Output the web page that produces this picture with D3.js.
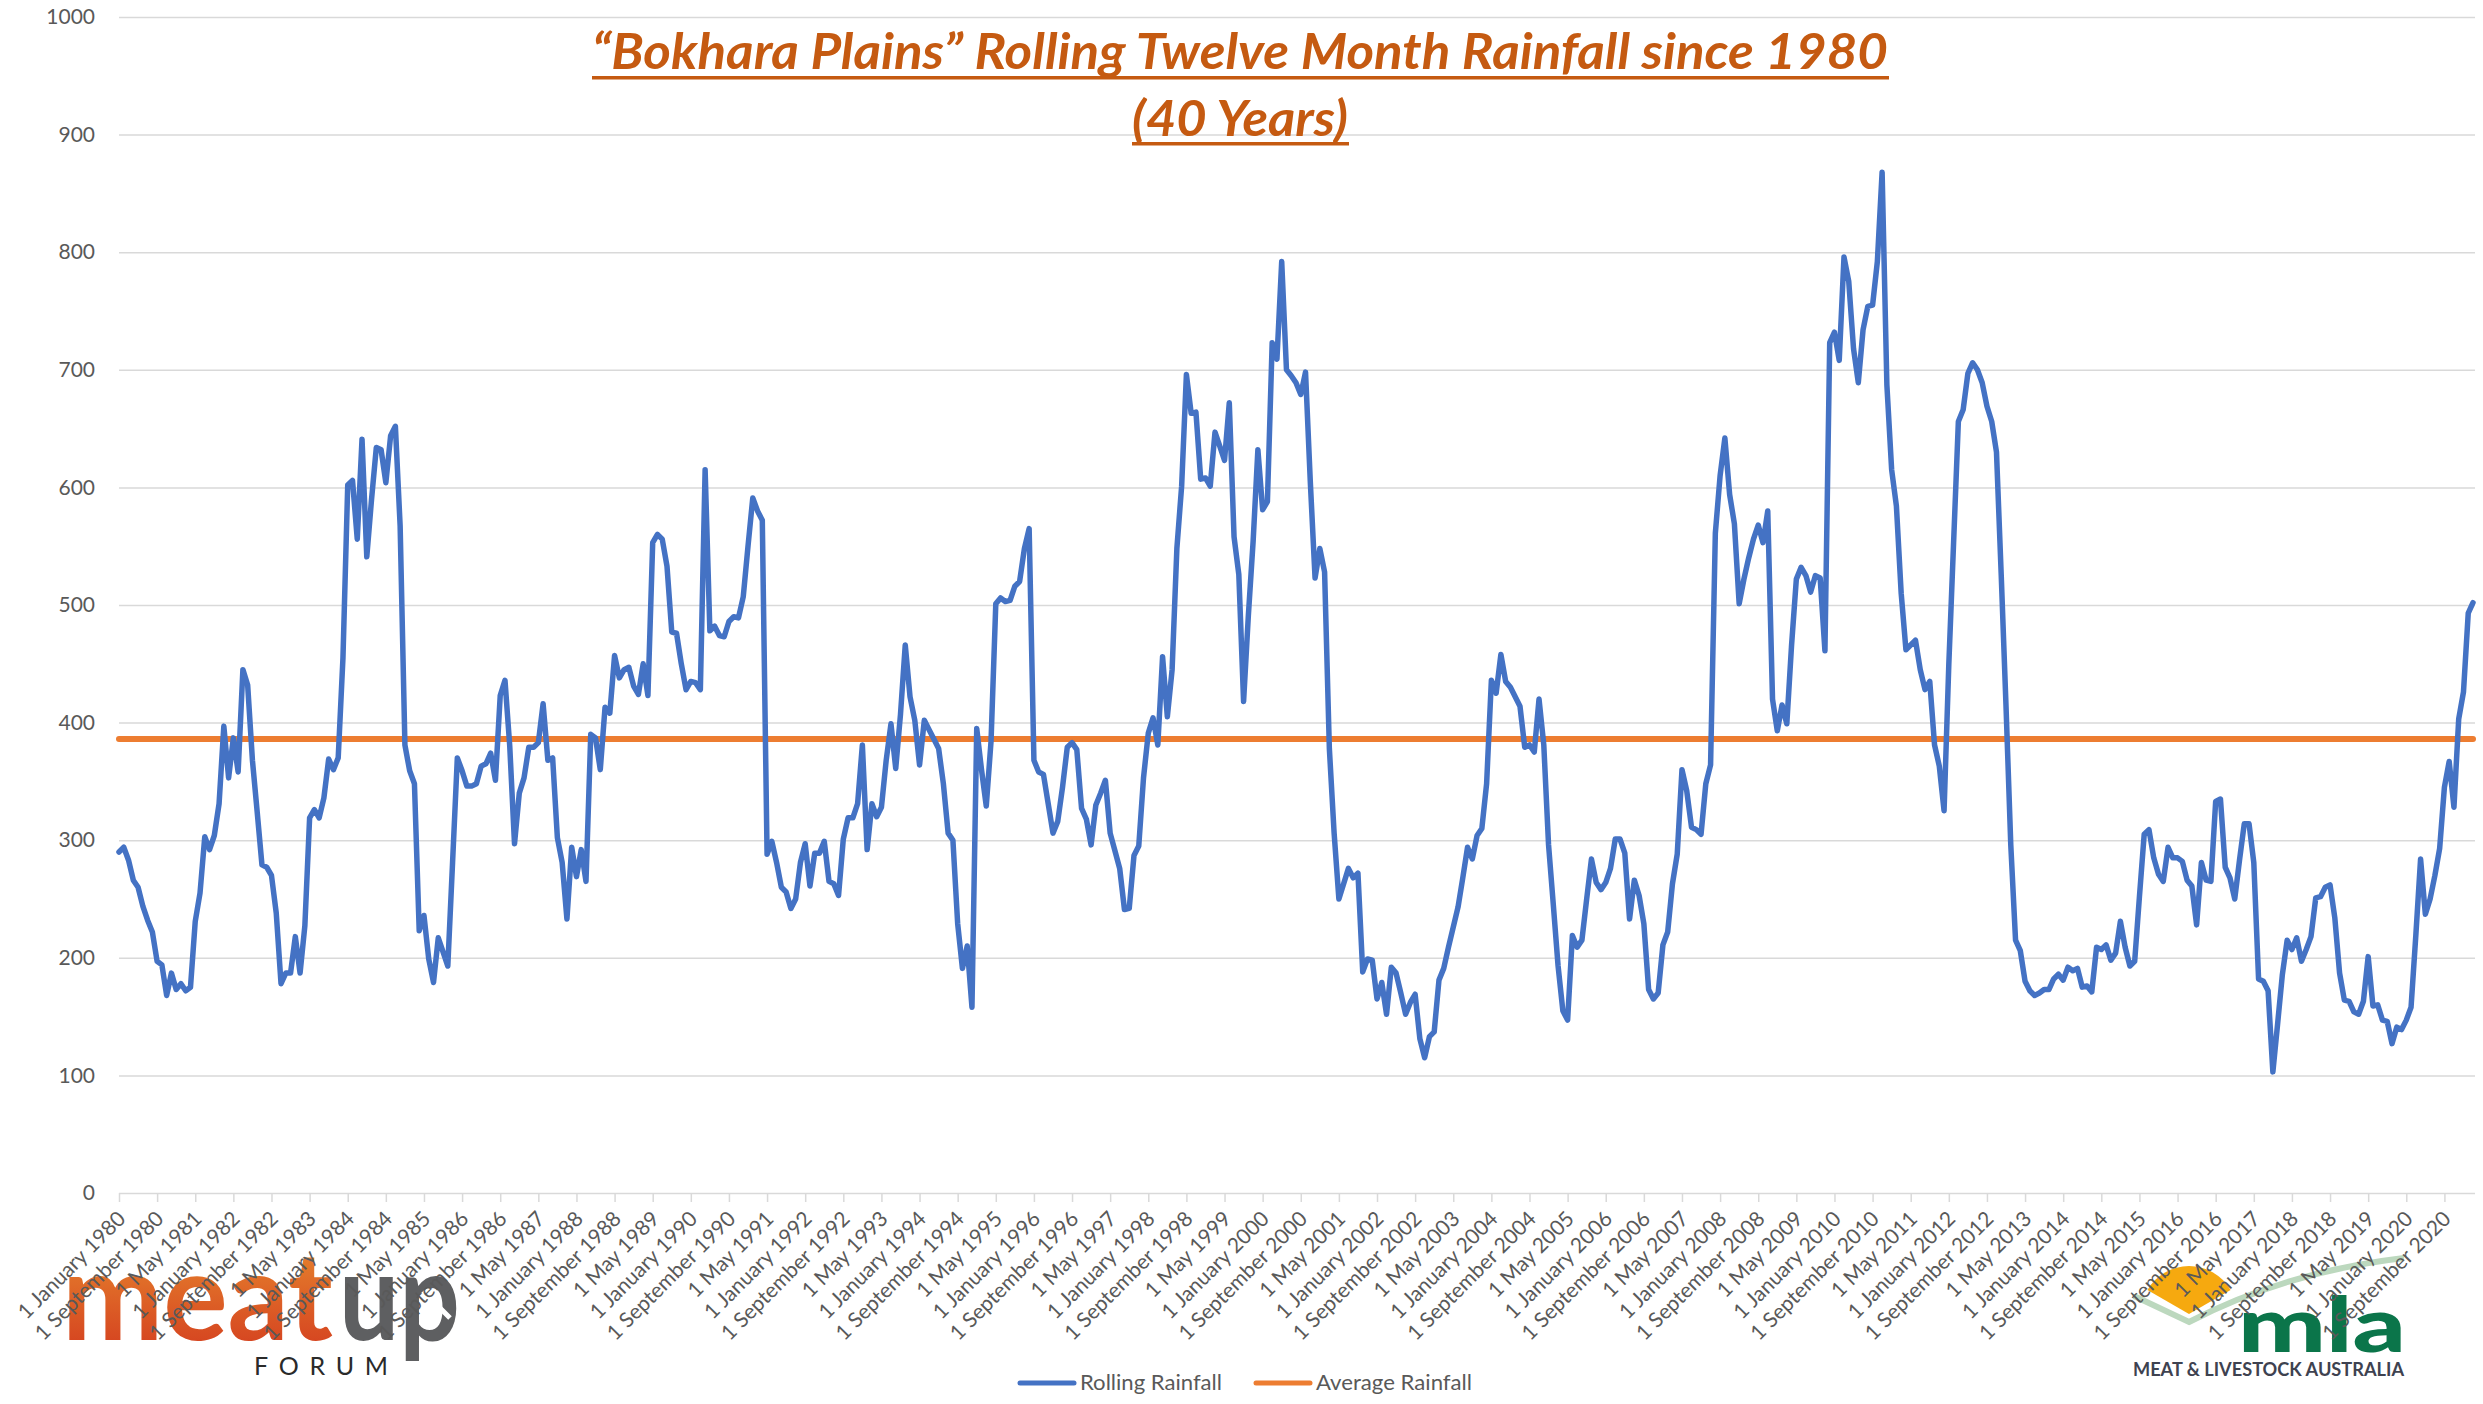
<!DOCTYPE html>
<html>
<head>
<meta charset="utf-8">
<script src="https://cdnjs.cloudflare.com/ajax/libs/d3/7.8.5/d3.min.js"></script>
<style>
    body { margin: 0; background: #fff; }
    svg { display: block; font-family: Lato, "Open Sans", sans-serif; }
</style>
</head>
<body>
<svg id="rainfall-chart" width="2483" height="1404"></svg>
<script>
// rolling 12 month rainfall (mm), one value per month from January 1980
var firstMonth = new Date(1980, 0, 1);
var rollingRainfall = [
    290, 294, 283, 266, 260, 244, 232, 222, 197, 194,
    168, 187, 173, 178, 172, 175, 231, 255, 303, 292,
    304, 331, 397, 353, 387, 358, 445, 432, 368, 324,
    279, 277, 270, 238, 178, 187, 187, 218, 187, 227,
    319, 326, 319, 336, 369, 360, 370, 455, 602, 606,
    556, 641, 541, 590, 634, 632, 604, 644, 652, 567,
    381, 359, 348, 223, 236, 199, 179, 217, 205, 193,
    281, 370, 359, 346, 346, 348, 363, 365, 374, 351,
    423, 436, 380, 297, 340, 353, 379, 379, 383, 416,
    368, 370, 302, 281, 233, 294, 269, 292, 265, 390,
    387, 360, 413, 408, 457, 438, 445, 447, 431, 424,
    450, 423, 553, 560, 556, 533, 477, 476, 450, 428,
    435, 434, 428, 615, 478, 482, 474, 473, 486, 490,
    489, 507, 550, 591, 580, 572, 288, 299, 281, 260,
    256, 242, 250, 281, 297, 261, 289, 289, 299, 265,
    263, 253, 301, 319, 319, 331, 381, 292, 331, 320,
    328, 368, 399, 361, 407, 466, 422, 402, 364, 402,
    394, 386, 378, 348, 306, 300, 229, 191, 210, 158,
    395, 360, 329, 384, 501, 506, 503, 504, 516, 520,
    548, 565, 368, 358, 356, 331, 306, 316, 345, 379,
    383, 377, 327, 318, 296, 330, 340, 351, 306, 291,
    276, 241, 242, 287, 295, 353, 391, 404, 381, 456,
    405, 445, 548, 601, 696, 663, 664, 607, 608, 601,
    647, 635, 623, 672, 558, 526, 418, 491, 554, 632,
    581, 588, 723, 709, 792, 700, 695, 689, 679, 698,
    605, 523, 548, 528, 378, 306, 250, 263, 276, 268,
    272, 188, 199, 198, 165, 179, 152, 192, 187, 170,
    152, 162, 169, 131, 115, 133, 137, 181, 191, 209,
    226, 243, 268, 294, 284, 304, 310, 348, 436, 425,
    458, 435, 430, 422, 414, 379, 381, 375, 420, 381,
    296, 245, 193, 155, 147, 219, 209, 215, 250, 284,
    264, 258, 264, 276, 301, 301, 289, 233, 266, 253,
    229, 173, 165, 170, 211, 222, 263, 288, 360, 342,
    311, 309, 305, 348, 364, 561, 610, 642, 594, 569,
    501, 522, 540, 556, 568, 553, 580, 420, 393, 415,
    399, 466, 522, 532, 525, 511, 525, 523, 461, 723,
    732, 708, 796, 775, 718, 689, 734, 754, 755, 792,
    868, 687, 615, 584, 510, 462, 466, 470, 445, 428,
    435, 381, 363, 325, 450, 553, 656, 666, 697, 706,
    700, 689, 669, 656, 630, 525, 414, 296, 215, 206,
    180, 172, 168, 170, 173, 173, 182, 186, 181, 192,
    189, 191, 175, 176, 171, 209, 207, 211, 198, 204,
    231, 209, 193, 197, 252, 305, 309, 285, 271, 265,
    294, 285, 285, 282, 266, 261, 228, 281, 266, 265,
    333, 335, 277, 268, 250, 283, 314, 314, 281, 182,
    180, 172, 103, 144, 186, 215, 207, 217, 197, 207,
    218, 251, 252, 260, 262, 234, 187, 164, 163, 154,
    152, 163, 201, 159, 160, 147, 146, 127, 141, 139,
    147, 158, 219, 284, 237, 250, 270, 293, 345, 367,
    328, 403, 426, 493, 502
];
var averageRainfall = 386;

var yTicks = [0, 100, 200, 300, 400, 500, 600, 700, 800, 900, 1000];
var tickLabels = [
    '1 January 1980', '1 September 1980', '1 May 1981', '1 January 1982', '1 September 1982',
    '1 May 1983', '1 January 1984', '1 September 1984', '1 May 1985', '1 January 1986',
    '1 September 1986', '1 May 1987', '1 January 1988', '1 September 1988', '1 May 1989',
    '1 January 1990', '1 September 1990', '1 May 1991', '1 January 1992', '1 September 1992',
    '1 May 1993', '1 January 1994', '1 September 1994', '1 May 1995', '1 January 1996',
    '1 September 1996', '1 May 1997', '1 January 1998', '1 September 1998', '1 May 1999',
    '1 January 2000', '1 September 2000', '1 May 2001', '1 January 2002', '1 September 2002',
    '1 May 2003', '1 January 2004', '1 September 2004', '1 May 2005', '1 January 2006',
    '1 September 2006', '1 May 2007', '1 January 2008', '1 September 2008', '1 May 2009',
    '1 January 2010', '1 September 2010', '1 May 2011', '1 January 2012', '1 September 2012',
    '1 May 2013', '1 January 2014', '1 September 2014', '1 May 2015', '1 January 2016',
    '1 September 2016', '1 May 2017', '1 January 2018', '1 September 2018', '1 May 2019',
    '1 January 2020', '1 September 2020'
];
var seriesNames = ['Rolling Rainfall', 'Average Rainfall'];
var seriesColors = ['#4472C4', '#ED7D31'];
var titleLines = ['\u201CBokhara Plains\u201D Rolling Twelve Month Rainfall since 1980', '(40 Years)'];

var fmt = d3.timeFormat('%-d %B %Y');
var months = d3.timeMonth.range(firstMonth, d3.timeMonth.offset(firstMonth, rollingRainfall.length)).map(fmt);

var plotLeft = 119, plotRight = 2473, gridRight = 2475, plotTop = 17, plotBottom = 1193;

var svg = d3.select('#rainfall-chart');

var x = d3.scalePoint().domain(months).range([plotLeft, plotRight]);
var y = d3.scaleLinear().domain([0, 1000]).range([plotBottom, plotTop]);

// logos sit under the axis labels
var logos = svg.append('g').attr('class', 'logos');
var grad = svg.append('defs').append('linearGradient')
    .attr('id', 'meat-grad').attr('x1', 0).attr('y1', 0).attr('x2', 0).attr('y2', 1);
grad.append('stop').attr('offset', '0%').attr('stop-color', '#EA9230');
grad.append('stop').attr('offset', '100%').attr('stop-color', '#D2381E');

logos.append('text')
    .attr('x', 62).attr('y', 1340)
    .attr('textLength', 271).attr('lengthAdjust', 'spacingAndGlyphs')
    .style('font-size', '122px').style('font-weight', 700)
    .attr('fill', 'url(#meat-grad)')
    .text('meat');
logos.append('text')
    .attr('x', 339).attr('y', 1340)
    .attr('textLength', 121).attr('lengthAdjust', 'spacingAndGlyphs')
    .style('font-size', '122px').style('font-weight', 700)
    .attr('fill', '#5E5F61')
    .text('up');
logos.append('path')
    .attr('d', 'M422,1318 L436,1304 L450,1318')
    .attr('fill', 'none').attr('stroke', '#fff').attr('stroke-width', 5);
logos.append('text')
    .attr('x', 254).attr('y', 1375)
    .attr('textLength', 134).attr('lengthAdjust', 'spacing')
    .style('font-size', '25px')
    .attr('fill', '#2A2A2A')
    .text('FORUM');

logos.append('path')
    .attr('transform', 'translate(2189,1314)')
    .attr('d', d3.arc()({ innerRadius: 0, outerRadius: 48, startAngle: -Math.PI / 3, endAngle: Math.PI / 3 }))
    .attr('fill', '#F6A90F');
logos.append('path')
    .attr('d', 'M2134,1296 L2189,1322 Q2285,1272 2404,1258')
    .attr('fill', 'none').attr('stroke', '#BCD8BE').attr('stroke-width', 6);
logos.append('text')
    .attr('x', 2238).attr('y', 1352)
    .attr('textLength', 168).attr('lengthAdjust', 'spacingAndGlyphs')
    .style('font-size', '76px').style('font-weight', 900)
    .attr('fill', '#0B754A')
    .text('mla');
logos.append('text')
    .attr('x', 2133).attr('y', 1376)
    .attr('textLength', 271).attr('lengthAdjust', 'spacingAndGlyphs')
    .style('font-size', '18px').style('font-weight', 700)
    .attr('fill', '#3E4250')
    .text('MEAT & LIVESTOCK AUSTRALIA');

// horizontal gridlines and y labels
svg.append('g')
    .attr('class', 'y-axis')
    .attr('transform', 'translate(' + plotLeft + ',0)')
    .call(d3.axisLeft(y).tickValues(yTicks).tickFormat(d3.format('d'))
        .tickSize(-(gridRight - plotLeft)).tickPadding(24))
    .call(function(g) {
        g.select('.domain').remove();
        g.selectAll('line').attr('stroke', '#D9D9D9').attr('stroke-width', 1.5);
        g.selectAll('text').attr('fill', '#595959').style('font-size', '21px').style('font-family', 'Lato, sans-serif');
    });

// x axis with rotated date labels
svg.append('g')
    .attr('class', 'x-axis')
    .attr('transform', 'translate(0,' + plotBottom + ')')
    .call(d3.axisBottom(x).tickValues(tickLabels).tickSize(9).tickSizeOuter(0))
    .call(function(g) {
        g.select('.domain').remove();
        g.selectAll('line').attr('stroke', '#D9D9D9').attr('stroke-width', 1.5);
        g.selectAll('text')
            .attr('x', -14).attr('y', 17).attr('dy', '0.35em')
            .attr('transform', 'rotate(-45)')
            .style('text-anchor', 'end')
            .style('font-size', '21px')
            .style('font-family', 'Lato, sans-serif')
            .attr('fill', '#595959');
    });

// series
var line = d3.line()
    .x(function(d, i) { return x(months[i]); })
    .y(function(d) { return y(d); });

svg.append('path')
    .datum(months.map(function() { return averageRainfall; }))
    .attr('d', line)
    .attr('fill', 'none')
    .attr('stroke', seriesColors[1])
    .attr('stroke-width', 6)
    .attr('stroke-linecap', 'round');

svg.append('path')
    .datum(rollingRainfall)
    .attr('d', line)
    .attr('fill', 'none')
    .attr('stroke', seriesColors[0])
    .attr('stroke-width', 5.5)
    .attr('stroke-linejoin', 'round')
    .attr('stroke-linecap', 'round');

// title
var title = svg.append('g').attr('class', 'title')
    .attr('fill', '#C55A11')
    .style('font-weight', 700).style('font-style', 'italic');
title.append('text')
    .attr('x', 1240).attr('y', 69)
    .attr('text-anchor', 'middle')
    .attr('textLength', 1296).attr('lengthAdjust', 'spacingAndGlyphs')
    .style('font-size', '50px')
    .text(titleLines[0]);
title.append('rect').attr('x', 592).attr('y', 76).attr('width', 1297).attr('height', 3.5);
title.append('text')
    .attr('x', 1240).attr('y', 136)
    .attr('text-anchor', 'middle')
    .attr('textLength', 216).attr('lengthAdjust', 'spacingAndGlyphs')
    .style('font-size', '50px')
    .text(titleLines[1]);
title.append('rect').attr('x', 1132).attr('y', 142).attr('width', 217).attr('height', 3.5);

// legend
var legendItems = [
    { name: seriesNames[0], color: seriesColors[0], x: 1020, width: 142 },
    { name: seriesNames[1], color: seriesColors[1], x: 1256, width: 156 }
];
var legend = svg.append('g').attr('class', 'legend')
    .selectAll('g').data(legendItems).enter().append('g')
    .attr('transform', function(d) { return 'translate(' + d.x + ',1383)'; });
legend.append('line')
    .attr('x1', 0).attr('x2', 54)
    .attr('stroke', function(d) { return d.color; })
    .attr('stroke-width', 5).attr('stroke-linecap', 'round');
legend.append('text')
    .attr('x', 60).attr('dy', '0.35em')
    .attr('textLength', function(d) { return d.width; }).attr('lengthAdjust', 'spacingAndGlyphs')
    .style('font-size', '21px')
    .attr('fill', '#595959')
    .text(function(d) { return d.name; });
</script>
</body>
</html>
